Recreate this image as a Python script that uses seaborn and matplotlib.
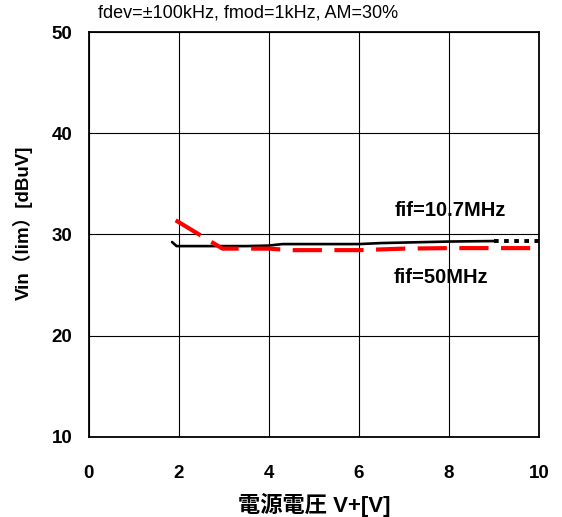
import pandas as pd
import seaborn as sns
import matplotlib
matplotlib.use("Agg")
import matplotlib.pyplot as plt

# supply voltage V+ [V] vs Vin(lim) [dBuV]
v_107 = [1.85, 1.95, 2.5, 3.0, 3.5, 4.0, 4.3, 5.0, 6.0, 6.5, 7.0, 8.0, 9.0]
lim_107 = [29.25, 28.85, 28.85, 28.85, 28.85, 28.9, 29.05, 29.05, 29.05, 29.15, 29.2, 29.3, 29.35]
v_107_ext = [9.0, 10.0]
lim_107_ext = [29.35, 29.35]
v_50 = [1.93, 2.97, 4.0, 4.5, 5.0, 6.0, 7.0, 8.0, 9.0, 10.0]
lim_50 = [31.4, 28.6, 28.6, 28.45, 28.45, 28.45, 28.6, 28.65, 28.65, 28.65]

x_ticks = [0, 2, 4, 6, 8, 10]
y_ticks = [10, 20, 30, 40, 50]

sns.set_theme(style="white")
plt.rcParams['font.family'] = ['Liberation Sans', 'Noto Sans CJK JP', 'DejaVu Sans']
plt.rcParams.update({"text.color": "black", "axes.labelcolor": "black",
                     "xtick.color": "black", "ytick.color": "black"})

fig = plt.figure(figsize=(5.62, 5.17), dpi=100)
ax = fig.add_axes([0.158, 0.155, 0.801, 0.783])

df107 = pd.DataFrame({"v": v_107, "lim": lim_107})
df107e = pd.DataFrame({"v": v_107_ext, "lim": lim_107_ext})
df50 = pd.DataFrame({"v": v_50, "lim": lim_50})

sns.lineplot(data=df107, x="v", y="lim", ax=ax, color="black", lw=1.9, sort=False)
sns.lineplot(data=df107e, x="v", y="lim", ax=ax, color="black", lw=2.8,
             sort=False, linestyle=(0, (1.2, 1.4)))
sns.lineplot(data=df50, x="v", y="lim", ax=ax, color="#ff0000", lw=3.0,
             sort=False, linestyle=(0, (7, 3)))

ax.set_xlim(0, 10)
ax.set_ylim(10, 50)
ax.set_xticks(x_ticks)
ax.set_yticks(y_ticks)
ax.grid(True, color="black", lw=0.8)
for s in ax.spines.values():
    s.set_color("black")
    s.set_linewidth(1.3)
ax.tick_params(axis="both", length=0, labelsize=13.5)
ax.tick_params(axis="x", pad=20)
ax.tick_params(axis="y", pad=12)
for lbl in ax.get_xticklabels() + ax.get_yticklabels():
    lbl.set_fontweight("bold")

ax.set_xlabel("電源電圧 V+[V]", fontsize=16, fontweight="bold", labelpad=8)
ax.set_ylabel("Vin（lim）[dBuV]", fontsize=13.5, fontweight="bold", labelpad=13)
ax.yaxis.label.set_y(0.528)

ax.text(0.2, 51.0, "fdev=±100kHz, fmod=1kHz, AM=30%", fontsize=13, ha="left", va="bottom")
ax.text(8.04, 32.4, "fif=10.7MHz", fontsize=14.5, fontweight="bold", ha="center", va="center")
ax.text(7.82, 25.75, "fif=50MHz", fontsize=14.5, fontweight="bold", ha="center", va="center")

fig.savefig("out.png", dpi=100)
